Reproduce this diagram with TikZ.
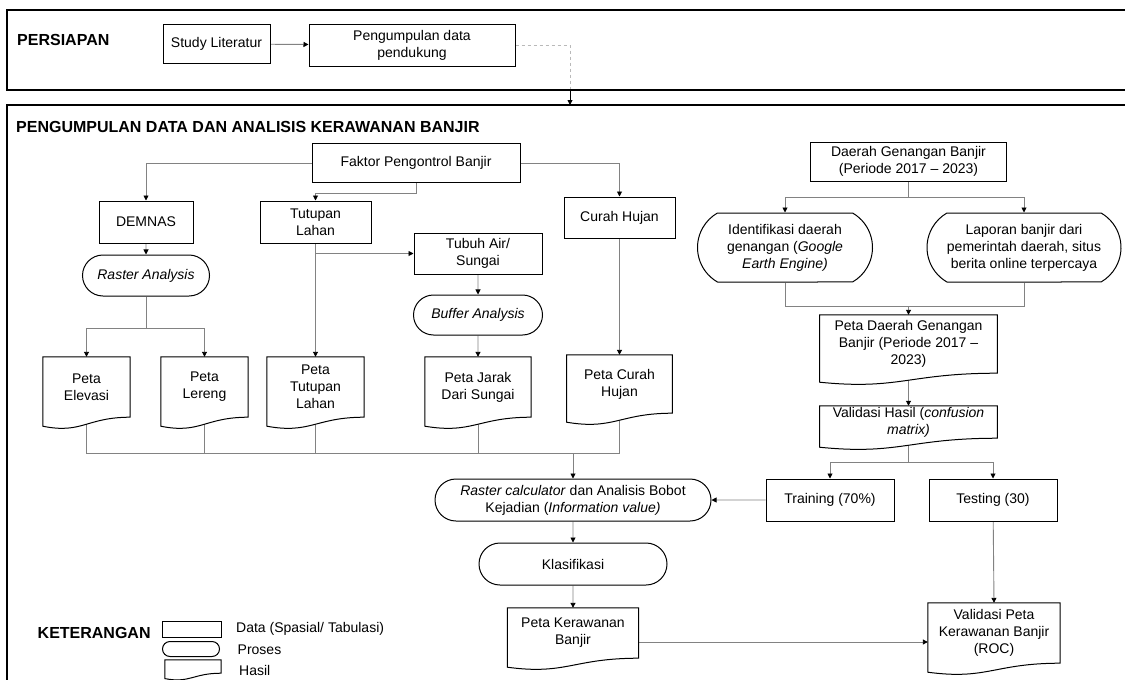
\documentclass[tikz,border=0pt]{standalone}
\usepackage{fontspec}
\setmainfont{Liberation Sans}
\usetikzlibrary{arrows.meta,shapes.misc,calc}
\pgfdeclarelayer{background}
\pgfdeclarelayer{shapes}
\pgfsetlayers{background,shapes,main}
\definecolor{conncol}{RGB}{130,130,130}
\newcommand\fs{\fontsize{14}{17}\selectfont}
\newcommand\fh{\fontsize{16}{19}\selectfont\bfseries}
\newcommand\docshape[2][1]{%
  \begin{pgfonlayer}{shapes}
  \draw[docline] (#2.north west) -- (#2.north east) -- (#2.south east)
    .. controls ($(#2.south east)!0.5!(#2.south west)$) and ($(#2.south west)!0.45!(#2.south east)+(0,{17*#1})$)
    .. ($(#2.south west)+(0,{9*#1})$) -- cycle;
  \end{pgfonlayer}}
\tikzset{
  conn/.style={draw=conncol, line width=0.9pt},
  arr/.style={conn, -{Triangle[length=5pt,width=5pt,color=black]}},
  box/.style={draw=black, line width=1pt, fill=white, align=center, font=\fs, inner sep=1pt},
  proc/.style={rounded rectangle, draw=black, line width=1pt, fill=white, align=center, font=\fs, inner sep=1pt},
  docn/.style={draw=none, align=center, font=\fs, inner sep=1pt},
  docline/.style={draw=black, line width=1pt, fill=white},
  frame/.style={draw=black, line width=1.4pt},
  head/.style={font=\fh, anchor=west, inner sep=0pt},
  legtext/.style={font=\fs, anchor=west, inner sep=0pt},
}
\begin{document}
\begin{tikzpicture}[x=1pt,y=-1pt]
\useasboundingbox (0,0) rectangle (1125,680);
% frames
\draw[frame] (7,10) rectangle (1140,90);
\draw[frame] (7,105) rectangle (1140,700);
\node[head] (persiapan) at (17,40) {PERSIAPAN};
\node[head] (judul) at (16,127) {PENGUMPULAN DATA DAN ANALISIS KERAWANAN BANJIR};
% top row
\node[box, minimum width=107, minimum height=39] (study) at (216.5,44) {Study Literatur};
\node[box, minimum width=206, minimum height=42] (pengum) at (412,45) {Pengumpulan data\\pendukung};
\coordinate (c1) at (570,90);
\coordinate (c2) at (570,105);
% left part
\node[box, minimum width=208, minimum height=39] (faktor) at (416,163) {Faktor Pengontrol Banjir};
\node[box, minimum width=94, minimum height=42] (demnas) at (146,222) {DEMNAS};
\node[box, minimum width=111, minimum height=42] (tutupan) at (315.5,222) {Tutupan\\Lahan};
\node[box, minimum width=111, minimum height=41] (curah) at (619.5,217.5) {Curah Hujan};
\node[proc, minimum width=129, minimum height=41] (raster) at (146,275.5) {\textit{Raster Analysis}};
\node[box, minimum width=128, minimum height=41] (tubuh) at (478,253.5) {Tubuh Air/\\Sungai};
\node[proc, minimum width=131, minimum height=40] (buffer) at (478,315) {\textit{Buffer Analysis}};
\node[docn, minimum width=87, minimum height=60] (elev) at (86.5,387) {Peta\\Elevasi};
\node[docn, minimum width=87, minimum height=60] (lereng) at (204.5,387) {Peta\\Lereng};
\node[docn, minimum width=97, minimum height=60] (ptutupan) at (315.5,387) {Peta\\Tutupan\\Lahan};
\node[docn, minimum width=106, minimum height=60] (jarak) at (478,387) {Peta Jarak\\Dari Sungai};
\node[docn, minimum width=105.5, minimum height=58] (pcurah) at (619.5,384) {Peta Curah\\Hujan};
\docshape{elev}\docshape{lereng}\docshape{ptutupan}\docshape{jarak}\docshape{pcurah}
% right part
\node[box, minimum width=196, minimum height=39] (daerah) at (908.5,161.5) {Daerah Genangan Banjir\\(Periode 2017 – 2023)};
\node[proc, rounded rectangle arc length=120, minimum width=177, minimum height=69] (ident) at (785,247.5) {Identifikasi daerah\\genangan (\textit{Google}\\\textit{Earth Engine)}};
\node[proc, rounded rectangle arc length=120, minimum width=196, minimum height=69] (lapor) at (1024,247.5) {Laporan banjir dari\\pemerintah daerah, situs\\berita online terpercaya};
\node[docn, minimum width=177.5, minimum height=58] (pdaerah) at (908.5,344) {Peta Daerah Genangan\\Banjir (Periode 2017 –\\2023)};
\node[docn, minimum width=177.5, minimum height=32] (valid) at (908.5,422) {Validasi Hasil (\textit{confusion}\\\textit{matrix)}};
\docshape{pdaerah}\docshape{valid}
\node[box, minimum width=128, minimum height=42] (training) at (830,500) {Training (70\%)};
\node[box, minimum width=128, minimum height=42] (testing) at (993,500) {Testing (30)};
% bottom centre
\node[proc, minimum width=278, minimum height=42] (rcalc) at (573,500) {\textit{Raster calculator} dan Analisis Bobot\\Kejadian (\textit{Information value)}};
\node[proc, minimum width=190, minimum height=42] (klas) at (573,564) {Klasifikasi};
\node[docn, minimum width=131, minimum height=50] (pk) at (573,633) {Peta Kerawanan\\Banjir};
\node[docn, minimum width=132, minimum height=60] (vp) at (994,633) {Validasi Peta\\Kerawanan Banjir\\(ROC)};
\docshape{pk}\docshape{vp}
% legend
\node[head] (ket) at (37.5,633) {KETERANGAN};
\node[box, minimum width=58.5, minimum height=16, inner sep=0pt] (lrect) at (192,629) {};
\node[proc, minimum width=57, minimum height=15, inner sep=0pt] (lproc) at (191,649) {};
\node[docn, minimum width=56, minimum height=13, inner sep=0pt] (ldoc) at (193,666.5) {};
\docshape[0.6]{ldoc}
\node[legtext] (t1) at (236,629) {Data (Spasial/ Tabulasi)};
\node[legtext] (t2) at (237.5,650) {Proses};
\node[legtext] (t3) at (239,670) {Hasil};
% connectors
\coordinate (bus) at (0,453);
\begin{pgfonlayer}{background}
\draw[arr] (study) -- (pengum);
\draw[conn, dashed, draw=gray!55] (pengum.east) -| (c1);
\draw[line width=0.9pt, -{Triangle[length=5pt,width=5pt]}] (c1) -- (c2);
\draw[arr] (faktor.west) -| (demnas.north);
\draw[arr] (faktor.south) -- ++(0,10) -| (tutupan.north);
\draw[arr] (faktor.east) -| (curah.north);
\draw[arr] (demnas) -- (raster);
\draw[conn] (raster.south) -- ++(0,31.5) coordinate (rs);
\draw[arr] (rs) -| (elev.north);
\draw[arr] (rs) -| (lereng.north);
\draw[arr] (tutupan.south) -- (ptutupan.north);
\draw[arr] (tutupan.south |- tubuh.west) -- (tubuh.west);
\draw[arr] (tubuh) -- (buffer);
\draw[arr] (buffer) -- (jarak.north);
\draw[arr] (curah) -- (pcurah.north);
\draw[conn] (elev.south) -- (elev.south |- bus) -- (pcurah.south |- bus) -- (pcurah.south);
\draw[conn] (lereng.south) -- (lereng.south |- bus);
\draw[conn] (ptutupan.south) -- (ptutupan.south |- bus);
\draw[conn] (jarak.south) -- (jarak.south |- bus);
\draw[arr] (rcalc.north |- bus) -- (rcalc.north);
\draw[conn] (daerah.south) -- ++(0,16) coordinate (ds);
\draw[arr] (ds) -| (ident.north);
\draw[arr] (ds) -| (lapor.north);
\draw[conn] (ident.south) -- ++(0,24) coordinate (ms) -- (ms -| lapor.south) -- (lapor.south);
\draw[arr] (ms -| pdaerah.north) -- (pdaerah.north);
\draw[arr] (pdaerah.south) -- (valid.north);
\draw[conn] (valid.south) -- ++(0,24) coordinate (vs);
\draw[arr] (vs) -| (training.north);
\draw[arr] (vs) -| (testing.north);
\draw[arr] (training) -- (rcalc);
\draw[arr] (rcalc) -- (klas);
\draw[arr] (klas) -- (pk.north);
\draw[arr] (testing) -- (vp.north);
\draw[arr] ([yshift=-9pt]pk.east) -- ([yshift=-9pt]vp.west);
\end{pgfonlayer}
\end{tikzpicture}
\end{document}
